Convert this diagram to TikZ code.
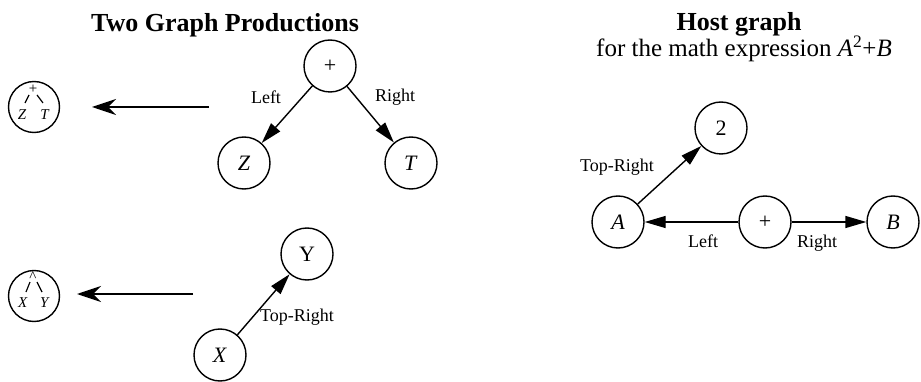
\documentclass[tikz,border=0pt]{standalone}
\usepackage{fontspec}
\setmainfont{Liberation Serif}
\usetikzlibrary{arrows.meta}
\begin{document}
\begin{tikzpicture}[x=1pt,y=-1pt,
  vertex/.style={circle,draw,line width=1.4pt,minimum size=52pt,inner sep=0pt,
    font=\fontsize{22}{26}\selectfont},
  mini/.style={circle,draw,line width=1.4pt,minimum size=51pt,inner sep=0pt},
  tiny/.style={inner sep=0pt,font=\fontsize{15}{17}\selectfont},
  edge/.style={line width=1.4pt,-{Triangle[length=21pt,width=12pt]}},
  prod/.style={line width=1.4pt,-{Stealth[length=24pt,width=16pt,inset=8pt]}},
  lbl/.style={inner sep=0pt,font=\fontsize{18}{21}\selectfont},
  ttl/.style={anchor=base,inner sep=0pt,font=\bfseries\fontsize{26}{30}\selectfont},
  sub/.style={anchor=base,inner sep=0pt,font=\fontsize{25}{29}\selectfont}]
\useasboundingbox (0,0) rectangle (921,382);

% headings
\node[ttl] (h1) at (225,32) {Two Graph Productions};
\node[ttl] (h2) at (739,31) {Host graph};
\node[sub] (h3) at (744,57) {for the math expression \textit{A}\textsuperscript{2}+\textit{B}};

% first production: left-hand side drawn as a compact tree
\node[mini] (lhs1) at (34,107) {};
\node[tiny] (lp) at (33,89) {+};
\node[tiny] (lz) at (22,115) {\textit{Z}};
\node[tiny] (lt) at (45,115) {\textit{T}};
\draw[line width=1.2pt] (29,95) -- (25,103) (37,95) -- (43,103);
\coordinate (a1s) at (209,107);
\coordinate (a1e) at (92,107);
\draw[prod] (a1s) -- (a1e);

% first production: right-hand side
\node[vertex] (p1) at (330,66) {+};
\node[vertex] (z1) at (244,163) {\textit{Z}};
\node[vertex] (t1) at (411,163) {\textit{T}};
\draw[edge] (p1) -- (z1) node[lbl] at (266,97) {Left};
\draw[edge] (p1) -- (t1) node[lbl] at (395,97) {Right};

% second production: left-hand side
\node[mini] (lhs2) at (34,296) {};
\node[tiny] (lc) at (33,277) {\^{}};
\node[tiny] (lx) at (23,303) {\textit{X}};
\node[tiny] (ly) at (45,303) {\textit{Y}};
\draw[line width=1.2pt] (30,282) -- (26,292) (37,282) -- (42,292);
\coordinate (a2s) at (193,294);
\coordinate (a2e) at (77,294);
\draw[prod] (a2s) -- (a2e);

% second production: right-hand side
\node[vertex] (y2) at (307,254) {Y};
\node[vertex] (x2) at (220,355) {\textit{X}};
\draw[edge] (x2) -- (y2) node[lbl] at (297,317) {Top-Right};

% host graph
\node[vertex] (n2) at (721,128) {2};
\node[vertex] (na) at (618,222) {\textit{A}};
\node[vertex] (np) at (765,222) {+};
\node[vertex] (nb) at (893,222) {\textit{B}};
\draw[edge] (na) -- (n2) node[lbl] at (617,167) {Top-Right};
\draw[edge] (np) -- (na) node[lbl] at (703,241) {Left};
\draw[edge] (np) -- (nb) node[lbl] at (817,243) {Right};
\end{tikzpicture}
\end{document}
